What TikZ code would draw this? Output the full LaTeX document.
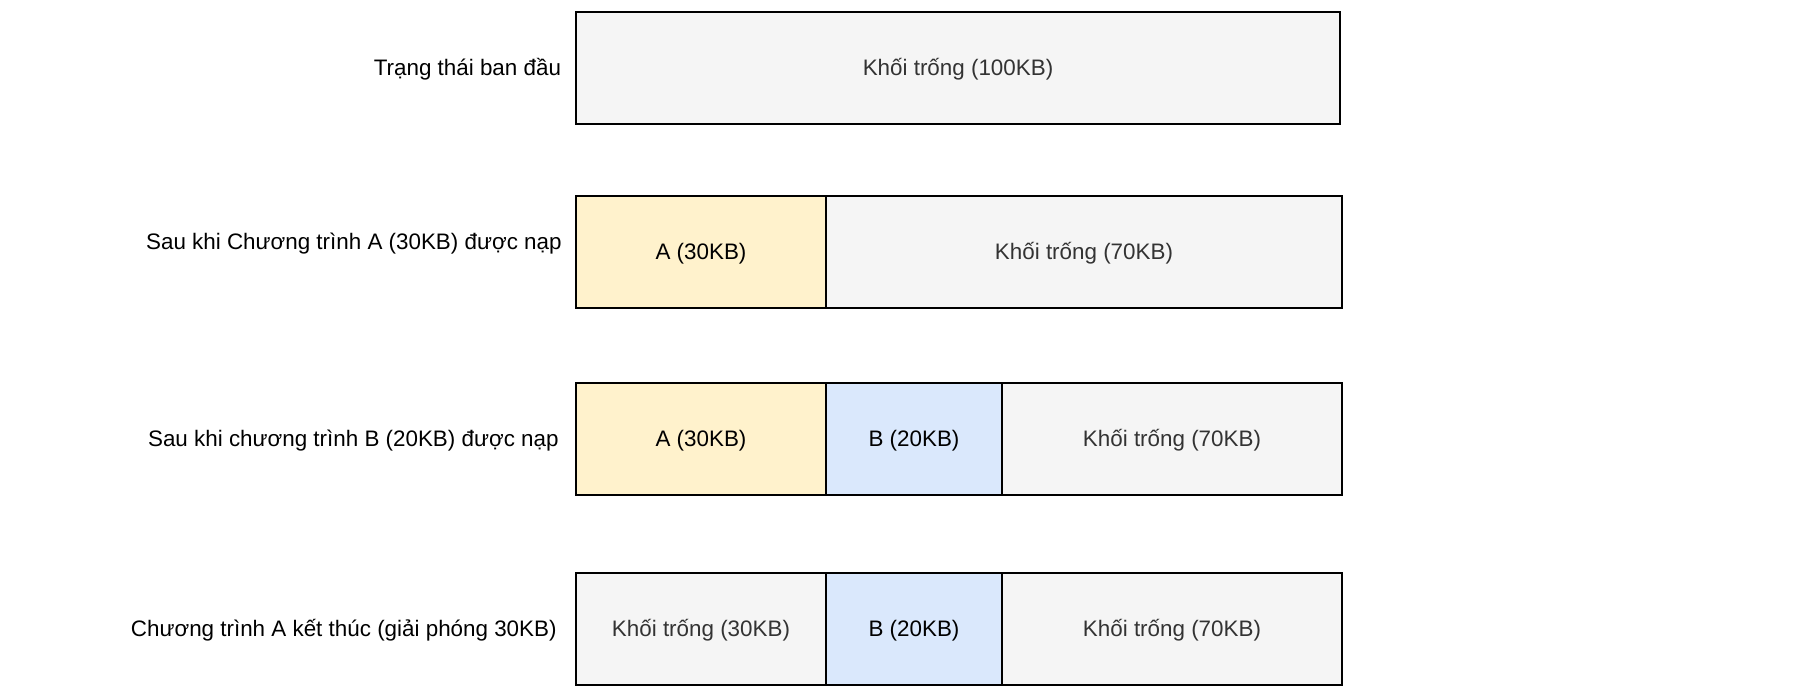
\documentclass[tikz,border=0pt]{standalone}
\usepackage{fontspec}
\setmainfont{Liberation Sans}
\usetikzlibrary{positioning}
\definecolor{freefill}{HTML}{F5F5F5}
\definecolor{freetext}{HTML}{333333}
\definecolor{afill}{HTML}{FFF2CC}
\definecolor{bfill}{HTML}{DAE8FC}

\begin{document}
\begin{tikzpicture}[x=0.5pt,y=-0.5pt,node distance=0pt,
    blk/.style={draw=black,line width=0.9pt,minimum height=56pt,inner sep=0pt,outer sep=0pt,
      text height=8pt,text depth=0pt,font=\fontsize{11.2}{13.4}\selectfont},
    freeblk/.style={blk,fill=freefill,text=freetext},
    ablk/.style={blk,fill=afill},
    bblk/.style={blk,fill=bfill},
    lbl/.style={inner sep=0pt,text height=8pt,text depth=0pt,font=\fontsize{11.2}{13.4}\selectfont}]
  \useasboundingbox (0,0) rectangle (1801,694);
  % ban dau
  \node[freeblk,minimum width=382pt,anchor=north west] (f1) at (576,12) {Khối trống (100KB)};
  \node[lbl] (l1) [left=7.3pt of f1] {Trạng thái ban đầu};
  % nap A
  \node[ablk,minimum width=125pt,anchor=north west] (a2) at (576,196) {A (30KB)};
  \node[freeblk,minimum width=258pt] (f2) [right=of a2] {Khối trống (70KB)};
  \node[lbl] (l2) [left=7pt of a2,yshift=5pt] {Sau khi Chương trình A (30KB) được nạp};
  % nap B
  \node[ablk,minimum width=125pt,anchor=north west] (a3) at (576,383) {A (30KB)};
  \node[bblk,minimum width=88pt] (b3) [right=of a3] {B (20KB)};
  \node[freeblk,minimum width=170pt] (f3) [right=of b3] {Khối trống (70KB)};
  \node[lbl] (l3) [left=8.5pt of a3] {Sau khi chương trình B (20KB) được nạp};
  % A ket thuc
  \node[freeblk,minimum width=125pt,anchor=north west] (g4) at (576,573) {Khối trống (30KB)};
  \node[bblk,minimum width=88pt] (b4) [right=of g4] {B (20KB)};
  \node[freeblk,minimum width=170pt] (f4) [right=of b4] {Khối trống (70KB)};
  \node[lbl] (l4) [left=9.5pt of g4] {Chương trình A kết thúc (giải phóng 30KB)};
\end{tikzpicture}
\end{document}
